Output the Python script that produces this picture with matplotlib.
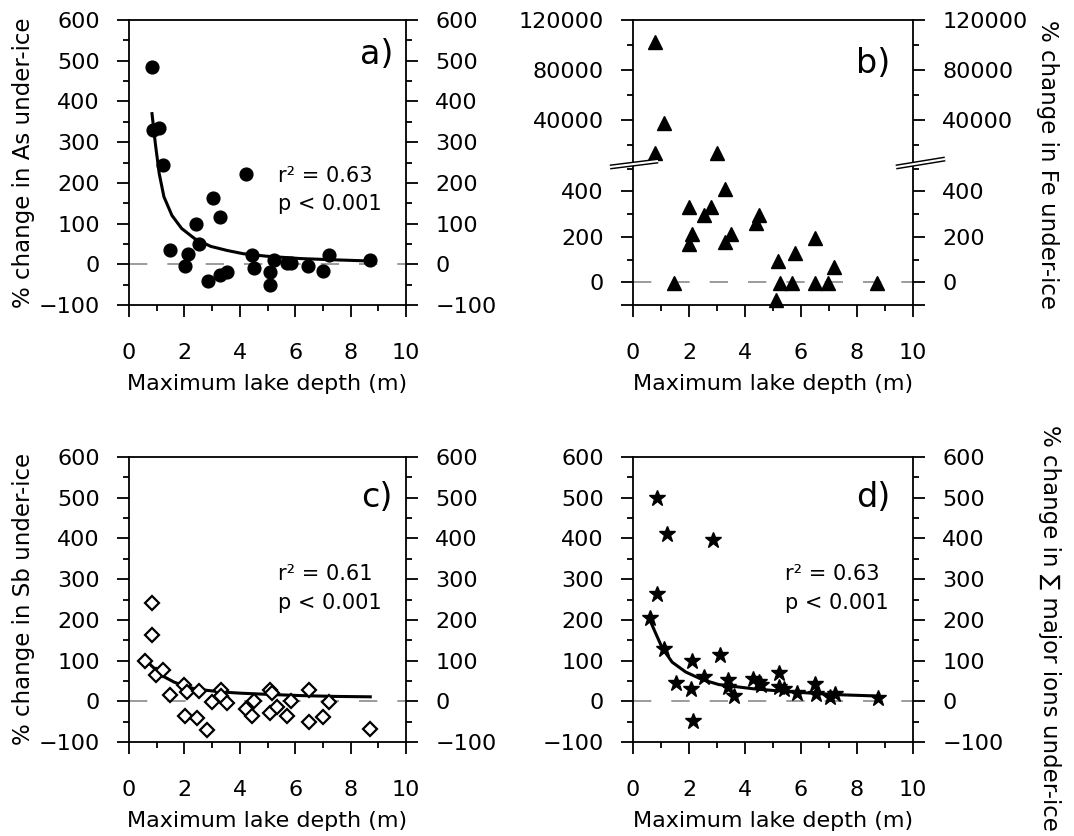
import matplotlib
matplotlib.use('agg')  # no display

import matplotlib.pyplot as plt
from matplotlib.lines import Line2D

# ---- data ----
# a) arsenic
as_depth = [0.82, 0.85, 1.09, 1.24, 1.47, 2.02, 2.14, 2.43, 2.54, 2.84, 3.03, 3.30,
            3.30, 3.54, 4.21, 4.45, 4.50, 5.08, 5.08, 5.25, 5.70, 5.84, 6.48, 7.01,
            7.23, 8.71]
as_change = [484, 331, 334, 243, 36, -5, 26, 100, 49, -41, 164, 115,
             -27, -19, 221, 22, -9, -18, -50, 10, 2, 2, -4, -17,
             24, 10]
as_fit_depth = [0.83, 0.95, 1.09, 1.26, 1.55, 1.90, 2.37, 2.95, 3.54, 4.12, 4.94,
                6.20, 7.40, 8.73]
as_fit = [370, 297, 223, 166, 120, 88, 63, 44, 34, 26, 20, 14, 11, 8]

# b) iron (broken axis)
fe_depth = [0.80, 1.10, 0.80, 3.00, 1.45, 2.01, 2.11, 1.99, 2.52, 2.80, 3.30, 3.30,
            3.51, 4.40, 4.49, 5.18, 5.10, 5.26, 5.68, 5.77, 6.49, 6.49, 6.96, 7.19,
            8.71]
fe_change = [102700, 37300, 13300, 13300, -5, 331, 214, 170, 297, 331, 412, 177,
             214, 261, 294, 92, -79, -5, -5, 130, 196, -5, -5, 67,
             -5]

# c) antimony
sb_depth = [0.57, 0.82, 0.82, 0.96, 1.23, 1.48, 1.99, 2.11, 2.02, 2.45, 2.54, 2.83,
            3.01, 3.31, 3.31, 3.52, 4.22, 4.43, 4.52, 5.10, 5.10, 5.18, 5.36, 5.70,
            5.84, 6.51, 6.51, 7.01, 7.23, 8.71]
sb_change = [100, 241, 164, 64, 78, 15, 39, 23, -35, -41, 25, -70,
             -2, 28, 14, -3, -18, -35, 0, 27, -28, 20, -14, -35,
             0, 28, -51, -39, -2, -67]
sb_fit_depth = [0.57, 0.80, 1.02, 1.30, 1.63, 2.00, 2.35, 2.80, 3.31, 4.00, 5.00,
                6.20, 7.40, 8.71]
sb_fit = [107, 88, 74, 59, 47, 38, 31, 27, 23, 20, 17, 14, 12, 11]

# d) sum of major ions
ion_depth = [0.85, 1.23, 2.85, 0.85, 0.62, 1.09, 2.10, 3.10, 1.53, 2.08, 2.16, 2.55,
             3.40, 3.38, 3.60, 4.28, 4.50, 4.57, 5.20, 5.22, 5.40, 5.85, 6.50, 6.52,
             7.05, 7.23, 8.75]
ion_change = [499, 412, 396, 264, 205, 128, 100, 113, 45, 29, -48, 60,
              53, 35, 14, 55, 47, 39, 69, 34, 30, 20, 43, 19,
              11, 19, 7]
ion_fit_depth = [0.60, 0.81, 1.05, 1.40, 1.88, 2.48, 3.07, 4.26, 5.45, 6.60, 7.40,
                 8.71]
ion_fit = [200, 167, 130, 96, 72, 53, 41, 31, 24, 19, 16, 13]

stats_a = ['r\u00b2 = 0.63', 'p < 0.001']
stats_c = ['r\u00b2 = 0.61', 'p < 0.001']
stats_d = ['r\u00b2 = 0.63', 'p < 0.001']

W, H = 1074, 836
plt.rcParams['font.family'] = ['DejaVu Sans']
fig = plt.figure(figsize=(W / 100, H / 100), dpi=100)


def box(left, top, right, bottom):
    # pixel box -> figure fraction
    return [left / W, 1 - bottom / H, (right - left) / W, (bottom - top) / H]


def style(ax, xaxis=True, zero_line=True):
    for s in ax.spines.values():
        s.set_linewidth(1.3)
    ax.tick_params(axis='both', which='both', direction='out', width=1.3,
                   labelsize=16, colors='black')
    ax.tick_params(axis='y', which='both', left=True, right=True,
                   labelleft=True, labelright=True, pad=12.5)
    ax.tick_params(which='major', length=8.5)
    ax.tick_params(which='minor', length=4.5)
    ax.set_xlim(0, 10)
    if xaxis:
        ax.set_xticks(range(0, 11, 2))
        ax.set_xticks(range(1, 10, 2), minor=True)
        ax.tick_params(axis='x', which='both', top=False, pad=19)
        ax.set_xlabel('Maximum lake depth (m)', fontsize=16, labelpad=8)
    else:
        ax.tick_params(axis='x', which='both', bottom=False, top=False,
                       labelbottom=False)
    if zero_line:
        ax.axhline(0, color='#8a8a8a', lw=1.2, dashes=(11, 12), zorder=1)


def std_y(ax):
    ax.set_ylim(-100, 600)
    ax.set_yticks(range(-100, 601, 100))
    ax.set_yticks(range(-50, 551, 100), minor=True)


# a)
ax_a = fig.add_axes(box(129, 20, 406, 305))
style(ax_a)
std_y(ax_a)
ax_a.plot(as_fit_depth, as_fit, color='black', lw=2.2, zorder=3)
ax_a.plot(as_depth, as_change, 'o', color='black', ms=9.2, zorder=4)
ax_a.text(0.955, 0.88, 'a)', transform=ax_a.transAxes, fontsize=24,
          ha='right', va='center')
ax_a.text(5.37, 218, stats_a[0], fontsize=15, va='center')
ax_a.text(5.37, 148, stats_a[1], fontsize=15, va='center')

# b) broken axis
brk = 164
split = 1000
ax_bu = fig.add_axes(box(633, 20, 913, brk))
ax_bl = fig.add_axes(box(633, brk, 913, 305))
style(ax_bu, xaxis=False, zero_line=False)
style(ax_bl)
ax_bu.spines['bottom'].set_visible(False)
ax_bl.spines['top'].set_visible(False)
ax_bu.set_ylim(4800, 120000)
ax_bu.set_yticks([40000, 80000, 120000])
ax_bu.set_yticks([20000, 60000, 100000], minor=True)
ax_bl.set_ylim(-100, 520)
ax_bl.set_yticks([-100, 0, 200, 400])
ax_bl.set_yticklabels(['', '0', '200', '400'])
ax_bl.set_yticks([100, 300, 500], minor=True)
hi = [(d, v) for d, v in zip(fe_depth, fe_change) if v > split]
lo = [(d, v) for d, v in zip(fe_depth, fe_change) if v <= split]
ax_bu.plot([d for d, v in hi], [v for d, v in hi], '^', color='black',
           ms=10.5, zorder=4, clip_on=False)
ax_bl.plot([d for d, v in lo], [v for d, v in lo], '^', color='black',
           ms=10.5, zorder=4, clip_on=False)
ax_bu.text(0.92, 0.7, 'b)', transform=ax_bu.transAxes, fontsize=24,
           ha='right', va='center')

# break marks
for (x0, y0, x1, y1) in [(610, 167, 658, 161), (896, 167, 945, 159)]:
    xs = [x0 / W, x1 / W]
    ys = [1 - y0 / H, 1 - y1 / H]
    fig.add_artist(Line2D(xs, ys, color='black', lw=3.6,
                          solid_capstyle='butt', transform=fig.transFigure))
    fig.add_artist(Line2D(xs, ys, color='white', lw=1.5,
                          solid_capstyle='butt', transform=fig.transFigure))

# c)
ax_c = fig.add_axes(box(129, 457, 406, 742))
style(ax_c)
std_y(ax_c)
ax_c.plot(sb_fit_depth, sb_fit, color='black', lw=2.2, zorder=3)
ax_c.plot(sb_depth, sb_change, 'D', mfc='white', mec='black', mew=1.6,
          ms=7, zorder=4)
ax_c.text(0.95, 0.857, 'c)', transform=ax_c.transAxes, fontsize=24,
          ha='right', va='center')
ax_c.text(5.37, 313, stats_c[0], fontsize=15, va='center')
ax_c.text(5.37, 241, stats_c[1], fontsize=15, va='center')

# d)
ax_d = fig.add_axes(box(633, 457, 913, 742))
style(ax_d)
std_y(ax_d)
ax_d.plot(ion_fit_depth, ion_fit, color='black', lw=2.2, zorder=3)
ax_d.plot(ion_depth, ion_change, '*', color='black', ms=12, zorder=4)
ax_d.text(0.92, 0.857, 'd)', transform=ax_d.transAxes, fontsize=24,
          ha='right', va='center')
ax_d.text(5.44, 313, stats_d[0], fontsize=15, va='center')
ax_d.text(5.44, 241, stats_d[1], fontsize=15, va='center')

# axis titles
fig.text(24 / W, 1 - 163 / H, '% change in As under-ice', rotation=90,
         fontsize=16.5, ha='center', va='center')
fig.text(24 / W, 1 - 599 / H, '% change in Sb under-ice', rotation=90,
         fontsize=16.5, ha='center', va='center')
fig.text(1048 / W, 1 - 165 / H, '% change in Fe under-ice', rotation=-90,
         fontsize=16.5, ha='center', va='center')
fig.text(1049 / W, 1 - 628 / H, '% change in \u2211 major ions under-ice',
         rotation=-90, fontsize=16.5, ha='center', va='center')

plt.savefig('out.png', dpi=100)
